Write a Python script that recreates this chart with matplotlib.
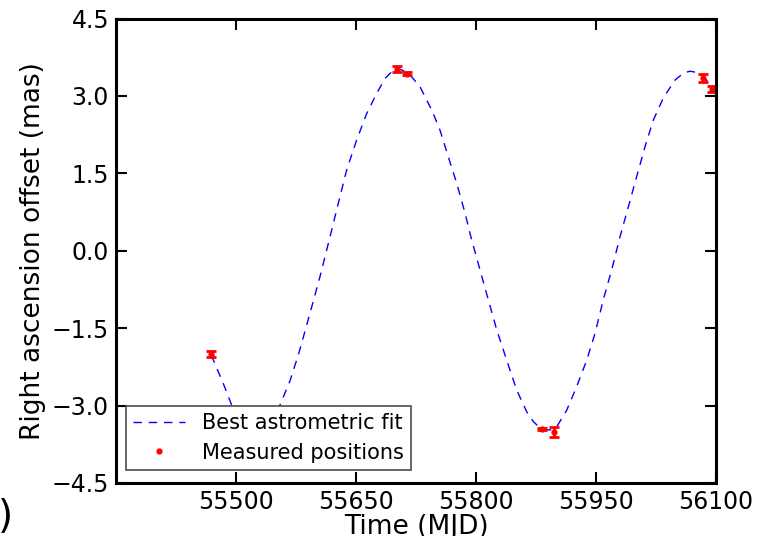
import matplotlib
matplotlib.use("Agg")
import matplotlib.pyplot as plt

# best astrometric fit (MJD, mas)
fit_mjd = [55469, 55484.1, 55494.6, 55507, 55516, 55525, 55534, 55544, 55555,
           55567.5, 55577.9, 55582.1, 55592.5, 55605, 55617.5, 55627.9, 55638.4,
           55650.9, 55663.4, 55675.9, 55686.3, 55696.6, 55702, 55708, 55717.5,
           55730, 55744.6, 55755, 55765.4, 55775.9, 55786.3, 55794.6, 55805,
           55815.4, 55825.9, 55838.4, 55850.9, 55863.4, 55871.6, 55880, 55888.4,
           55894, 55900.9, 55913.4, 55925.9, 55938.4, 55948.8, 55959.1, 55969.6,
           55980, 55990.4, 56000.9, 56011.3, 56021.6, 56034.1, 56048.8, 56060,
           56067.5, 56075, 56084.1, 56092, 56100]
fit_ra = [-2.02, -2.57, -2.99, -3.32, -3.46, -3.51, -3.46, -3.32, -2.99,
          -2.52, -2.02, -1.79, -1.21, -0.50, 0.27, 0.92, 1.57,
          2.15, 2.66, 3.05, 3.34, 3.50, 3.53, 3.50, 3.41,
          3.18, 2.73, 2.34, 1.82, 1.31, 0.73, 0.21, -0.37,
          -0.95, -1.53, -2.12, -2.70, -3.12, -3.31, -3.43, -3.47,
          -3.47, -3.41, -3.09, -2.63, -2.12, -1.60, -0.95, -0.37,
          0.27, 0.85, 1.44, 2.02, 2.53, 2.96, 3.31, 3.45,
          3.48, 3.46, 3.37, 3.25, 3.12]

# measured positions
obs_mjd = [55468.8, 55700.9, 55713.4, 55882.0, 55898.0, 56084.0, 56094.6]
obs_ra = [-2.00, 3.52, 3.43, -3.46, -3.51, 3.35, 3.13]
obs_err = [0.06, 0.06, 0.03, 0.02, 0.09, 0.08, 0.06]

fig = plt.figure(figsize=(7.6, 5.36), dpi=100)
ax = fig.add_axes([0.1526, 0.0989, 0.7895, 0.8664])

ax.plot(fit_mjd, fit_ra, "b--", lw=1.0, dashes=(6, 5), label="Best astrometric fit")
ax.errorbar(obs_mjd, obs_ra, yerr=obs_err, fmt="none", ecolor="r",
            elinewidth=2, capsize=3.5, capthick=2)
ax.plot(obs_mjd, obs_ra, "r.", ms=7, label="Measured positions")

ax.set_xlim(55350, 56100)
ax.set_ylim(-4.5, 4.5)
ax.set_xticks([55500, 55650, 55800, 55950, 56100])
ax.set_yticks([-4.5, -3.0, -1.5, 0.0, 1.5, 3.0, 4.5])
ax.set_yticklabels(["\u22124.5", "\u22123.0", "\u22121.5", "0.0", "1.5", "3.0", "4.5"])
ax.tick_params(direction="in", length=8, width=1.5, labelsize=17,
               top=True, right=True, pad=5)
for s in ax.spines.values():
    s.set_linewidth(2.2)

ax.set_xlabel("Time (MJD)", fontsize=19, labelpad=0)
ax.set_ylabel("Right ascension offset (mas)", fontsize=19, labelpad=4)

leg = ax.legend(loc="lower left", bbox_to_anchor=(0.016, 0.028), numpoints=1,
                fontsize=15, fancybox=False, framealpha=1, borderaxespad=0,
                handlelength=2.5, borderpad=0.35, labelspacing=0.45)
leg.get_frame().set_edgecolor("0.3")
leg.get_frame().set_linewidth(1.2)

fig.text(-0.003, 0.015, ")", fontsize=28)

fig.savefig("out.png", dpi=100)
